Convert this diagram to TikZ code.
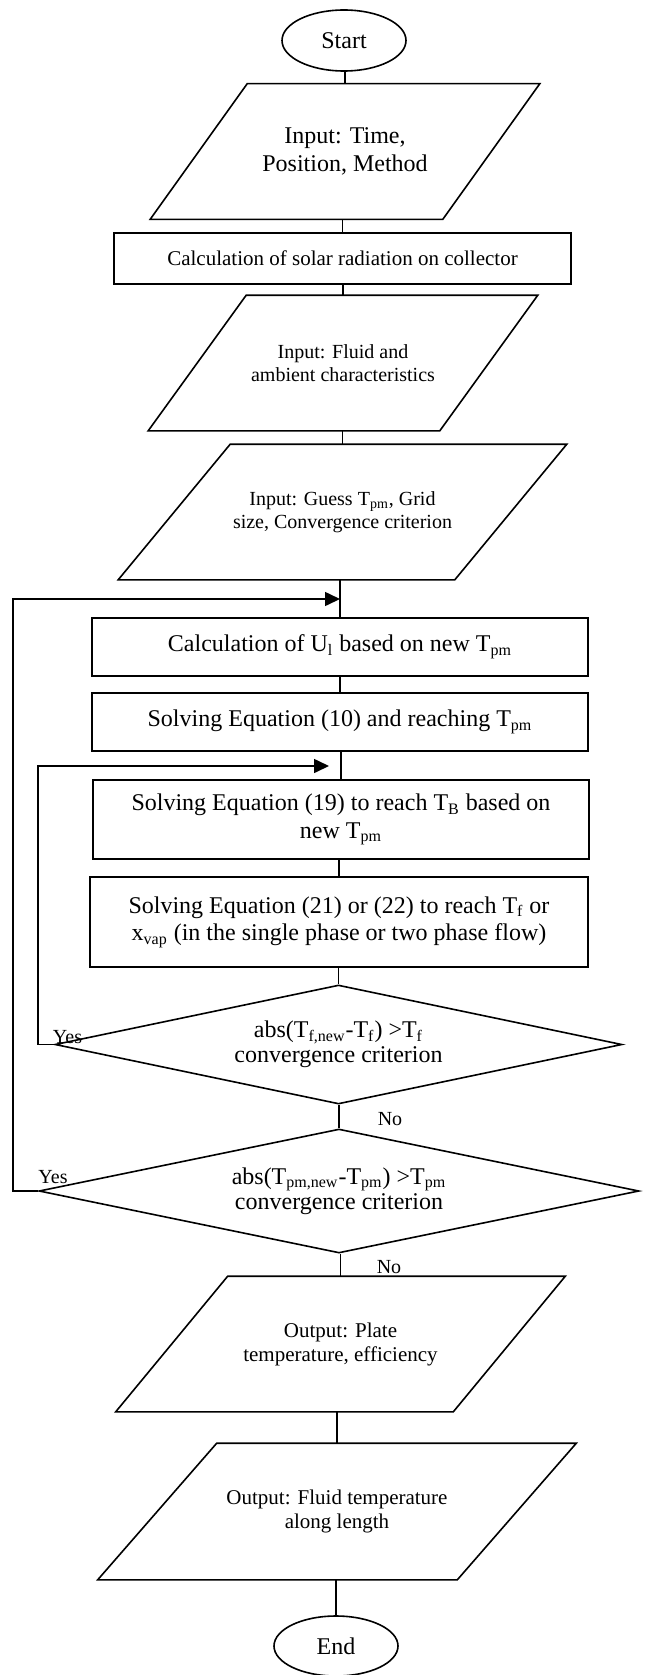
\documentclass[tikz,border=0pt]{standalone}
\usepackage{fontspec}
\setmainfont{Liberation Serif}
\usetikzlibrary{shapes.geometric,arrows.meta}
\tikzset{>={Triangle[length=7.5pt,width=7pt]}}
\newcommand{\bigtxt}{\fontsize{12}{13.8}\selectfont}
\newcommand{\smalltxt}{\fontsize{10.5}{12}\selectfont}
\newcommand{\inptxt}{\fontsize{10}{11.6}\selectfont}
% slanted outline round an unframed node: name, half slant
\newcommand{\slantbox}[2]{\draw ([xshift=#2]#1.north west) -- ([xshift=#2]#1.north east) -- ([xshift=-#2]#1.south east) -- ([xshift=-#2]#1.south west) -- cycle;}

\begin{document}
\begin{tikzpicture}[x=0.5pt, y=-0.5pt, line width=0.8pt,
  term/.style={draw, ellipse, minimum width=62pt, minimum height=30.5pt, inner sep=0pt, font=\bigtxt},
  io/.style={minimum width=#1, minimum height=67pt, inner sep=0pt, align=center},
  proc/.style={draw, minimum width=248pt, inner sep=0pt, align=center, font=\bigtxt},
  test/.style={draw, diamond, aspect=4.8, inner sep=0pt, align=center, font=\fontsize{12}{12.5}\selectfont},
  lbl/.style={inner sep=0pt, font=\fontsize{10}{12}\selectfont}]
	\useasboundingbox (0,0) rectangle (644,1675);

	\node[term] (start) at (344,40.5) {Start};
	\node[io=145.5pt, font=\bigtxt] (in1) at (345,151.5) {Input: Time,\\ Position, Method};
	\node[proc, minimum width=228.5pt, minimum height=25.5pt, font=\smalltxt] (solar) at (342.5,258.5) {Calculation of solar radiation on collector};
	\node[io=145pt, font=\inptxt] (in2) at (343,363) {Input: Fluid and\\ ambient characteristics};
	\node[io=167.5pt, font=\inptxt] (in3) at (342.5,512) {Input: Guess T\textsubscript{pm}, Grid\\ size, Convergence criterion};
	\node[proc, minimum height=29pt] (ul) at (340,647) {Calculation of U\textsubscript{l} based on new T\textsubscript{pm}};
	\node[proc, minimum height=29pt] (eqa) at (340,722) {Solving Equation (10) and reaching T\textsubscript{pm}};
	\node[proc, minimum height=39.5pt] (eqb) at (341,819.5) {Solving Equation (19) to reach T\textsubscript{B} based on\\ new T\textsubscript{pm}};
	\node[proc, minimum width=248.75pt, minimum height=45pt] (eqc) at (339,922) {Solving Equation (21) or (22) to reach T\textsubscript{f} or\\ x\textsubscript{vap} (in the single phase or two phase flow)};
	\node[test, minimum width=283.5pt, minimum height=59.5pt] (tf) at (338.5,1044.5) {abs(T\textsubscript{f,new}-T\textsubscript{f}) >T\textsubscript{f}\\ convergence criterion};
	\node[test, minimum width=300pt, minimum height=62pt] (tpm) at (339,1191) {abs(T\textsubscript{pm,new}-T\textsubscript{pm}) >T\textsubscript{pm}\\ convergence criterion};
	\node[io=168pt, font=\smalltxt] (out1) at (340.5,1344) {Output: Plate\\ temperature, efficiency};
	\node[io=179pt, minimum height=67.5pt, font=\smalltxt] (out2) at (337,1511.5) {Output: Fluid temperature\\ along length};
	\node[term, minimum height=30pt] (stop) at (336,1646) {End};

	\slantbox{in1}{24.25pt}
	\slantbox{in2}{24.5pt}
	\slantbox{in3}{28pt}
	\slantbox{out1}{28pt}
	\slantbox{out2}{29.75pt}

	\foreach \a/\b in {start/in1, in1/solar, solar/in2, in2/in3, in3/ul, ul/eqa, eqa/eqb, eqb/eqc, eqc/tf, tf/tpm, tpm/out1, out1/out2, out2/stop}{
		\draw (\b.north) -- (\b.north |- \a.south);
	}

	\coordinate (outer) at (13,599);
	\coordinate (inner) at (38,766);
	\draw[->] (tpm.west) -| (outer) -- (outer -| ul.north);
	\draw[->, shorten >=6pt] (tf.west) -| (inner) -- (inner -| eqb.north);

	\node[lbl] (yes1) at (67.5,1037) {Yes};
	\node[lbl] (no1) at (390,1119) {No};
	\node[lbl] (yes2) at (53,1177) {Yes};
	\node[lbl] (no2) at (389,1267) {No};
\end{tikzpicture}
\end{document}
